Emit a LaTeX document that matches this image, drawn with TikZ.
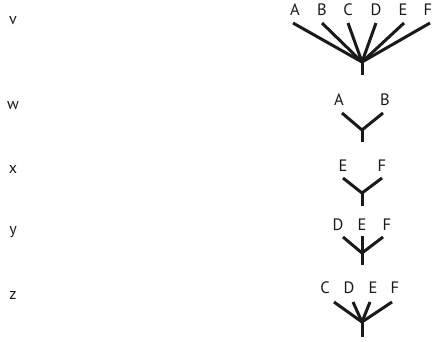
\documentclass[tikz,border=0pt]{standalone}
\usepackage{fontspec}
\setmainfont{PT Sans}
\usepackage{tikz}
\definecolor{ink}{HTML}{1A1A1A}

\begin{document}
\begin{tikzpicture}[x=1pt,y=-1pt,
    lbl/.style={font=\fontsize{16}{18}\selectfont, text=ink, inner sep=0pt},
    leaf/.style={font=\fontsize{16.5}{19}\selectfont, text=ink, inner sep=0pt},
    br/.style={line width=3pt, ink},
  ]
    \useasboundingbox (0,0) rectangle (433,341);

    % row labels
    \node[lbl] (lv) at (13,21)  {v};
    \node[lbl] (lw) at (13,106) {w};
    \node[lbl] (lx) at (13,169) {x};
    \node[lbl] (ly) at (13,232) {y};
    \node[lbl] (lz) at (13,295) {z};

    % tree v -- six leaves on one root
    \foreach \l/\x/\t in {A/295/293,B/322/322,C/348/348,D/376/376,E/403/404,F/428/430}{
      \node[leaf] (v\l) at (\x,10) {\l};
      \coordinate (v\l t) at (\t,23);
    }
    \coordinate (vr) at (362,62);
    \coordinate (vs) at (362,75);
    \foreach \l in {A,B,C,D,E,F}
      \draw[br] (v\l t) -- (vr);
    \draw[br] (vr) -- (vs);

    % tree w
    \node[leaf] (wA) at (339,100) {A};
    \node[leaf] (wB) at (385,100) {B};
    \coordinate (wAt) at (342,113);
    \coordinate (wBt) at (383,113);
    \coordinate (wr) at (362,130);
    \coordinate (ws) at (362,142);
    \draw[br] (wAt) -- (wr) -- (wBt);
    \draw[br] (wr) -- (ws);

    % tree x
    \node[leaf] (xE) at (343,166) {E};
    \node[leaf] (xF) at (382,166) {F};
    \coordinate (xEt) at (343,178);
    \coordinate (xFt) at (382,178);
    \coordinate (xr) at (362,193);
    \coordinate (xs) at (362,206);
    \draw[br] (xEt) -- (xr) -- (xFt);
    \draw[br] (xr) -- (xs);

    % tree y
    \node[leaf] (yD) at (338,225) {D};
    \node[leaf] (yE) at (362,225) {E};
    \node[leaf] (yF) at (387,225) {F};
    \coordinate (yDt) at (343,237);
    \coordinate (yEt) at (362,236);
    \coordinate (yFt) at (383,237);
    \coordinate (yr) at (362,253);
    \coordinate (ys) at (362,265);
    \draw[br] (yDt) -- (yr) -- (yFt);
    \draw[br] (yEt) -- (ys);

    % tree z
    \foreach \l/\x/\t in {C/325/334,D/349/353,E/373/370,F/395/392}{
      \node[leaf] (z\l) at (\x,288) {\l};
      \coordinate (z\l t) at (\t,302);
    }
    \coordinate (zr) at (362,322);
    \coordinate (zs) at (362,337);
    \foreach \l in {C,D,E,F}
      \draw[br] (z\l t) -- (zr);
    \draw[br] (zr) -- (zs);
\end{tikzpicture}
\end{document}
